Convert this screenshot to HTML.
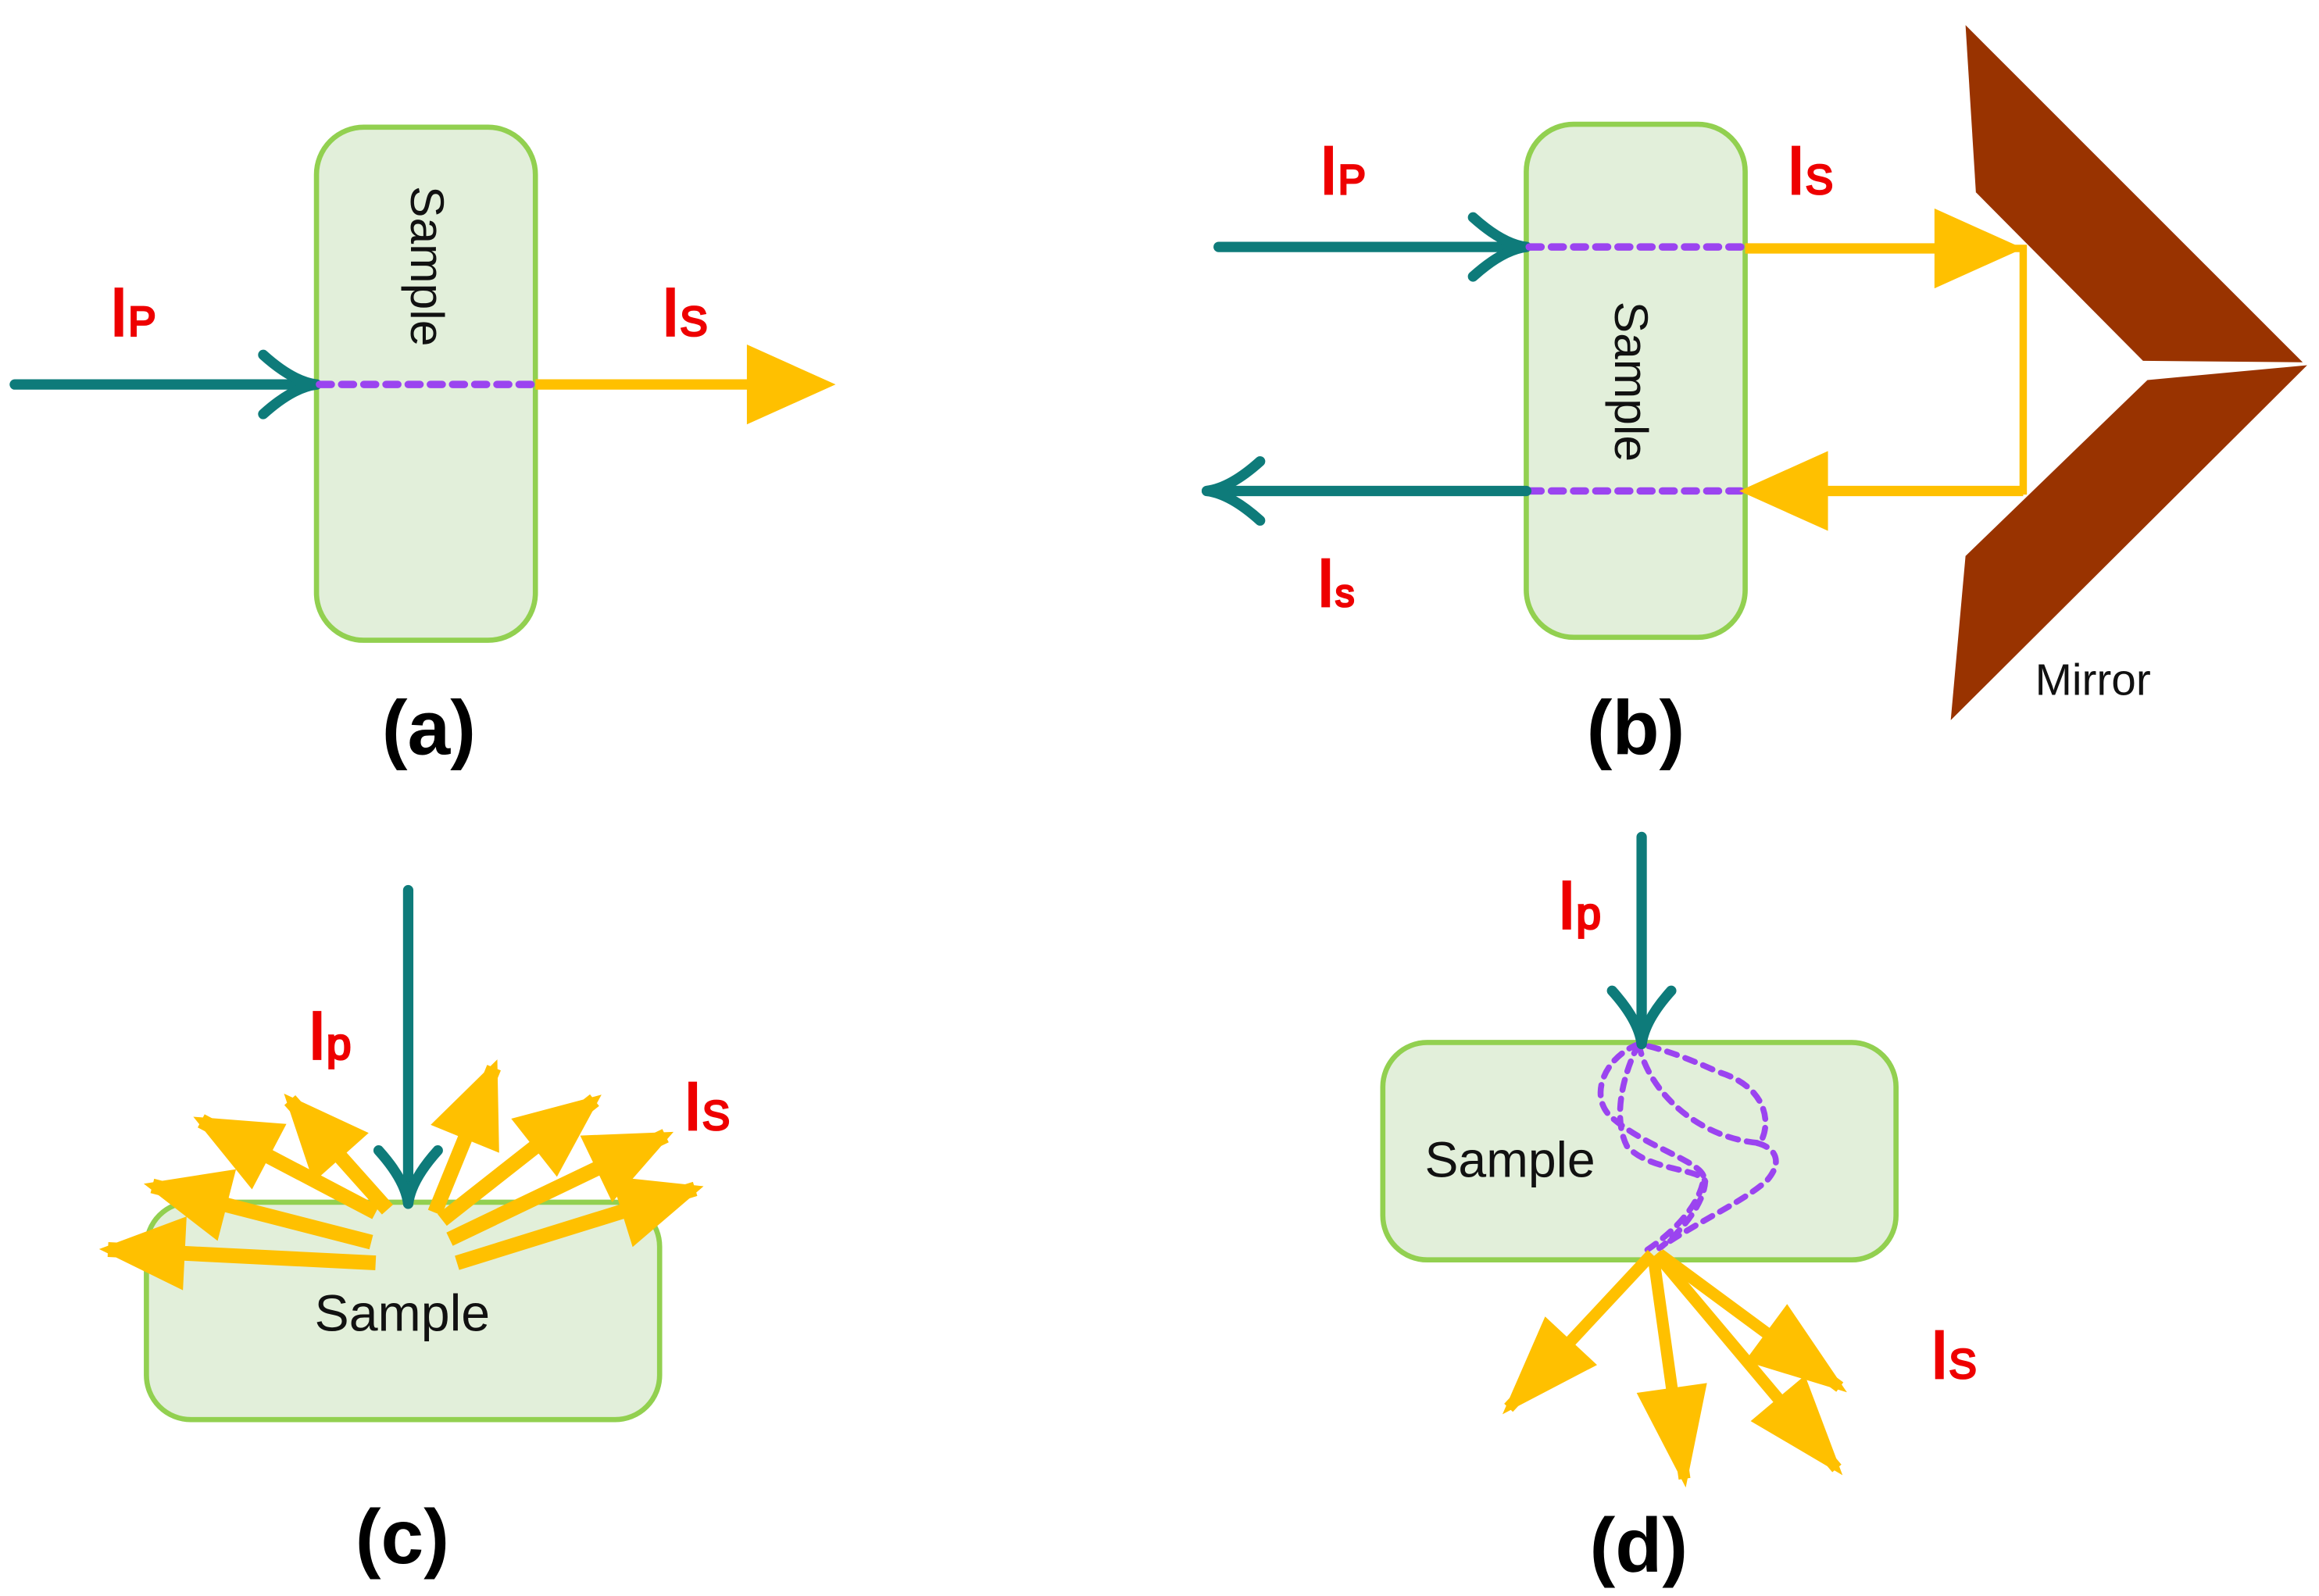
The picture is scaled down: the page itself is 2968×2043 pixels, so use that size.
<!DOCTYPE html>
<html><head><meta charset="utf-8"><style>
html,body{margin:0;padding:0;background:#fff;}
svg{display:block;}
text{font-family:"Liberation Sans",sans-serif;}
</style></head><body>
<svg width="2968" height="2043" viewBox="0 0 1568 1079.3" preserveAspectRatio="none" xmlns="http://www.w3.org/2000/svg">
<defs>
<marker id="ya" markerUnits="userSpaceOnUse" markerWidth="60" markerHeight="54" viewBox="0 0 60 54" refX="52" refY="27" orient="auto" overflow="visible">
<path d="M0,0 L60,27 L0,54 Z" fill="#FFC000"/>
</marker>
<marker id="yc" markerUnits="userSpaceOnUse" markerWidth="58" markerHeight="50" viewBox="0 0 58 50" refX="52" refY="25" orient="auto" overflow="visible">
<path d="M0,0 L58,25 L0,50 Z" fill="#FFC000"/>
</marker>
<marker id="yd" markerUnits="userSpaceOnUse" markerWidth="68" markerHeight="48" viewBox="0 0 68 48" refX="62" refY="24" orient="auto" overflow="visible">
<path d="M0,0 L68,24 L0,48 Z" fill="#FFC000"/>
</marker>
<marker id="tc" markerUnits="userSpaceOnUse" markerWidth="50" markerHeight="60" viewBox="-40 -30 50 60" refX="0" refY="0" orient="auto" overflow="visible">
<path d="M-36,-20 Q-16,-2 0,0 Q-16,2 -36,20" fill="none" stroke="#0E7B7A" stroke-width="7" stroke-linecap="round" stroke-linejoin="round"/>
</marker>
</defs>
<g fill="#E2EFDA" stroke="#92D050" stroke-width="3.5">
<rect x="214" y="86" width="148" height="347" rx="32"/>
<rect x="1032" y="84" width="148" height="347" rx="32"/>
<rect x="99" y="813" width="347" height="147" rx="30"/>
<rect x="935" y="705" width="347" height="147" rx="30"/>
</g>
<g fill="#993300">
<polygon points="1329,17 1557,245 1449,244 1336,130"/>
<polygon points="1452,257 1560,247 1319,487 1329,376"/>
</g>
<!-- (a) -->
<line x1="10" y1="260" x2="214" y2="260" stroke="#0E7B7A" stroke-width="7" stroke-linecap="round" marker-end="url(#tc)"/>
<line x1="216" y1="260" x2="362" y2="260" stroke="#9B44F0" stroke-width="5" stroke-dasharray="8 7" stroke-linecap="round"/>
<line x1="362" y1="260" x2="557" y2="260" stroke="#FFC000" stroke-width="7" marker-end="url(#ya)"/>
<text x="0" y="0" transform="translate(278,180) rotate(90)" font-size="32" text-anchor="middle" fill="#111">Sample</text>
<!-- (b) -->
<line x1="824" y1="167" x2="1032" y2="167" stroke="#0E7B7A" stroke-width="7" stroke-linecap="round" marker-end="url(#tc)"/>
<line x1="1034" y1="167" x2="1180" y2="167" stroke="#9B44F0" stroke-width="5" stroke-dasharray="8 7" stroke-linecap="round"/>
<line x1="1034" y1="332" x2="1180" y2="332" stroke="#9B44F0" stroke-width="5" stroke-dasharray="8 7" stroke-linecap="round"/>
<line x1="1180" y1="168" x2="1360" y2="168" stroke="#FFC000" stroke-width="7" marker-end="url(#ya)"/>
<polyline points="1360,168 1368,168 1368,332 1240,332" fill="none" stroke="#FFC000" stroke-width="5"/>
<line x1="1368" y1="332" x2="1184" y2="332" stroke="#FFC000" stroke-width="7" marker-end="url(#ya)"/>
<line x1="1032" y1="332" x2="816" y2="332" stroke="#0E7B7A" stroke-width="7" stroke-linecap="round" marker-end="url(#tc)"/>
<text x="0" y="0" transform="translate(1092,258) rotate(90)" font-size="32" text-anchor="middle" fill="#111">Sample</text>
<text x="1376" y="470" font-size="30" fill="#111">Mirror</text>
<!-- (c) -->
<g stroke="#FFC000" stroke-width="10" marker-end="url(#yc)">
<line x1="254" y1="854" x2="73" y2="845"/>
<line x1="251" y1="840" x2="103" y2="802"/>
<line x1="254" y1="820" x2="136" y2="758"/>
<line x1="262" y1="818" x2="196" y2="744"/>
<line x1="294" y1="820" x2="334" y2="722"/>
<line x1="299" y1="825" x2="402" y2="744"/>
<line x1="304" y1="838" x2="450" y2="768"/>
<line x1="309" y1="854" x2="470" y2="804"/>
</g>
<line x1="276" y1="602" x2="276" y2="814" stroke="#0E7B7A" stroke-width="7" stroke-linecap="round" marker-end="url(#tc)"/>
<text x="272" y="900" font-size="35" text-anchor="middle" fill="#111">Sample</text>
<!-- (d) -->
<g fill="none" stroke="#9B44F0" stroke-width="4" stroke-dasharray="7 6" stroke-linecap="round">
<path d="M1108,706 C1085,715 1075,740 1088,754 C1110,775 1150,785 1152,796 C1150,815 1130,835 1111,847"/>
<path d="M1108,706 C1098,725 1090,755 1100,775 C1115,792 1150,790 1153,799 C1152,815 1135,835 1122,844"/>
<path d="M1108,706 C1115,740 1150,770 1190,773 C1198,760 1195,735 1162,725 C1140,715 1123,709 1108,706"/>
<path d="M1188,773 C1200,776 1206,785 1195,798 C1180,812 1150,825 1122,844"/>
</g>
<g stroke="#FFC000" stroke-width="8" marker-end="url(#yd)">
<line x1="1117" y1="848" x2="1020" y2="952"/>
<line x1="1118" y1="850" x2="1139" y2="1000"/>
<line x1="1120" y1="848" x2="1242" y2="993"/>
<line x1="1122" y1="848" x2="1244" y2="938"/>
</g>
<line x1="1110" y1="566" x2="1110" y2="706" stroke="#0E7B7A" stroke-width="7" stroke-linecap="round" marker-end="url(#tc)"/>
<text x="1021" y="796" font-size="34" text-anchor="middle" fill="#111">Sample</text>
<g fill="#EE0000" stroke="#EE0000" stroke-width="1.5">
<text x="74" y="227" font-size="46">I<tspan font-size="28">P</tspan></text>
<text x="447" y="227" font-size="46">I<tspan font-size="28">S</tspan></text>
<text x="892" y="131" font-size="46">I<tspan font-size="28">P</tspan></text>
<text x="1208" y="131" font-size="46">I<tspan font-size="28">S</tspan></text>
<text x="890" y="410" font-size="46">I<tspan font-size="26">s</tspan></text>
<text x="208" y="716" font-size="46">I<tspan font-size="30">p</tspan></text>
<text x="462" y="764" font-size="46">I<tspan font-size="28">S</tspan></text>
<text x="1053" y="628" font-size="46">I<tspan font-size="30">p</tspan></text>
<text x="1305" y="932" font-size="46">I<tspan font-size="28">S</tspan></text>
</g>
<g font-size="52" font-weight="bold" text-anchor="middle" fill="#000">
<text x="290" y="510">(a)</text>
<text x="1106" y="510">(b)</text>
<text x="272" y="1057">(c)</text>
<text x="1108" y="1063">(d)</text>
</g>
</svg>
</body></html>
